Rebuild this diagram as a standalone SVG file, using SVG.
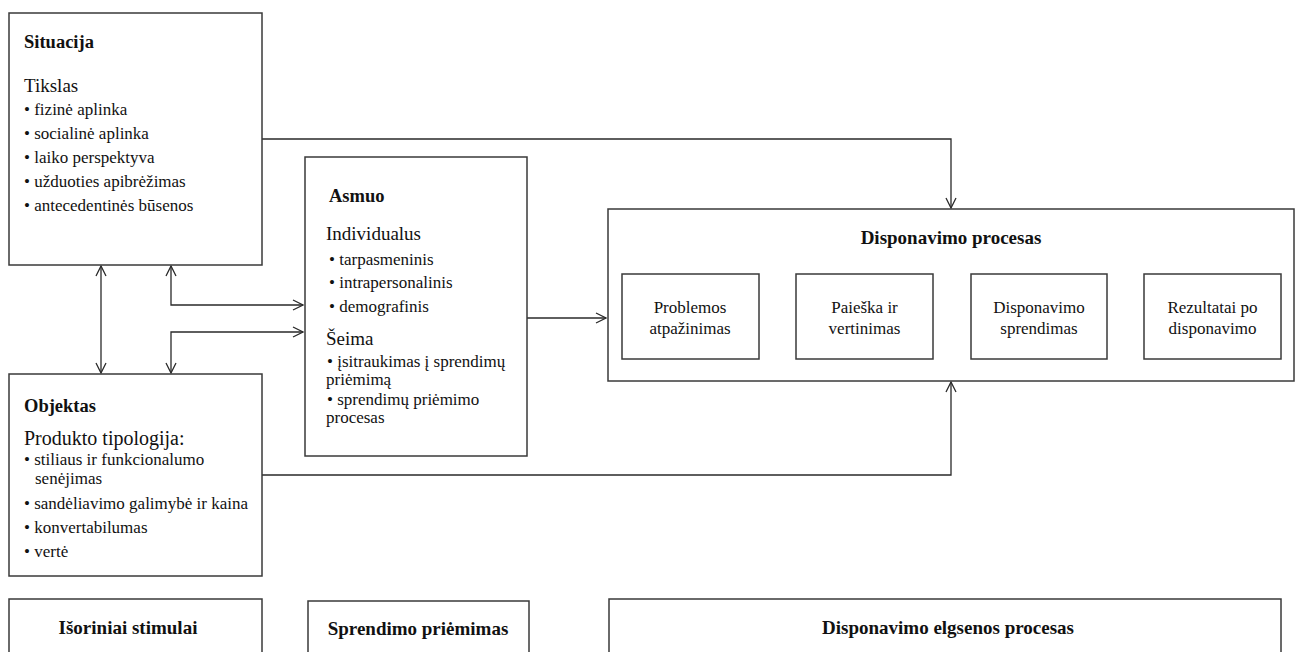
<svg xmlns="http://www.w3.org/2000/svg" width="1300" height="652" viewBox="0 0 1300 652">
<style>
.box{fill:#fff;stroke:#3a3a3a;stroke-width:1.5}
.t{font-family:"Liberation Serif","Times New Roman",serif;fill:#111}
.b{font-weight:bold;font-size:18.5px}
.h{font-size:19px}
.i{font-size:17px}
.c{font-size:17px;text-anchor:middle}
.bc{font-weight:bold;font-size:19px;text-anchor:middle}
.ln{fill:none;stroke:#2a2a2a;stroke-width:1.3}
</style>
<defs>
<marker id="a" viewBox="0 0 12 12" refX="11" refY="6" markerWidth="12" markerHeight="12" markerUnits="userSpaceOnUse" orient="auto-start-reverse">
<path d="M1,1 L11,6 L1,11" fill="none" stroke="#2a2a2a" stroke-width="1.3"/>
</marker>
</defs>
<rect width="1300" height="652" fill="#fff"/>

<g id="connectors">
<polyline class="ln" points="262,139 951,139 951,208" marker-end="url(#a)"/>
<line class="ln" x1="101" y1="266" x2="101" y2="373" marker-start="url(#a)" marker-end="url(#a)"/>
<polyline class="ln" points="171,266 171,305 303,305" marker-start="url(#a)" marker-end="url(#a)"/>
<polyline class="ln" points="303,332 171,332 171,373" marker-start="url(#a)" marker-end="url(#a)"/>
<line class="ln" x1="527" y1="318" x2="606" y2="318" marker-end="url(#a)"/>
<polyline class="ln" points="262,475 951,475 951,382" marker-end="url(#a)"/>
<line class="ln" x1="759" y1="317" x2="795" y2="317" marker-end="url(#a)"/>
<line class="ln" x1="933" y1="317" x2="970" y2="317" marker-end="url(#a)"/>
<line class="ln" x1="1107" y1="317" x2="1143" y2="317" marker-end="url(#a)"/>
</g>

<g id="situacija">
<rect class="box" x="9" y="13" width="253" height="252"/>
<text class="t b" x="24" y="48">Situacija</text>
<text class="t h" x="24" y="92">Tikslas</text>
<text class="t i" x="24" y="115">• fizinė aplinka</text>
<text class="t i" x="24" y="139">• socialinė aplinka</text>
<text class="t i" x="24" y="163">• laiko perspektyva</text>
<text class="t i" x="24" y="187">• užduoties apibrėžimas</text>
<text class="t i" x="24" y="211">• antecedentinės būsenos</text>
</g>

<g id="objektas">
<rect class="box" x="9" y="374" width="253" height="202"/>
<text class="t b" x="24" y="412">Objektas</text>
<text class="t h" x="24" y="445" style="font-size:20px">Produkto tipologija:</text>
<text class="t i" x="24" y="465">• stiliaus ir funkcionalumo</text>
<text class="t i" x="35" y="484">senėjimas</text>
<text class="t i" x="24" y="509">• sandėliavimo galimybė ir kaina</text>
<text class="t i" x="24" y="533">• konvertabilumas</text>
<text class="t i" x="24" y="557">• vertė</text>
</g>

<g id="asmuo">
<rect class="box" x="305" y="157" width="222" height="299"/>
<text class="t b" x="329" y="202">Asmuo</text>
<text class="t h" x="326" y="240">Individualus</text>
<text class="t i" x="329" y="265">• tarpasmeninis</text>
<text class="t i" x="329" y="288">• intrapersonalinis</text>
<text class="t i" x="329" y="312">• demografinis</text>
<text class="t h" x="326" y="345">Šeima</text>
<text class="t i" x="327" y="367">• įsitraukimas į sprendimų</text>
<text class="t i" x="326" y="385">priėmimą</text>
<text class="t i" x="327" y="405">• sprendimų priėmimo</text>
<text class="t i" x="326" y="423">procesas</text>
</g>

<g id="disponavimo-procesas">
<rect class="box" x="608" y="209" width="686" height="172"/>
<text class="t bc" x="951" y="244">Disponavimo procesas</text>
</g>

<g id="problemos">
<rect class="box" x="622" y="274" width="137" height="85"/>
<text class="t c" x="690" y="313">Problemos</text>
<text class="t c" x="690" y="334">atpažinimas</text>
</g>
<g id="paieska">
<rect class="box" x="796" y="274" width="137" height="85"/>
<text class="t c" x="864.5" y="313">Paieška ir</text>
<text class="t c" x="864.5" y="334">vertinimas</text>
</g>
<g id="sprendimas">
<rect class="box" x="971" y="274" width="136" height="85"/>
<text class="t c" x="1039" y="313">Disponavimo</text>
<text class="t c" x="1039" y="334">sprendimas</text>
</g>
<g id="rezultatai">
<rect class="box" x="1144" y="274" width="137" height="85"/>
<text class="t c" x="1212.5" y="313">Rezultatai po</text>
<text class="t c" x="1212.5" y="334">disponavimo</text>
</g>

<g id="isoriniai-stimulai">
<rect class="box" x="9" y="599" width="253" height="70"/>
<text class="t bc" x="128" y="634">Išoriniai stimulai</text>
</g>
<g id="sprendimo-priemimas">
<rect class="box" x="308" y="601" width="221" height="70"/>
<text class="t bc" x="418" y="635">Sprendimo priėmimas</text>
</g>
<g id="disponavimo-elgsenos-procesas">
<rect class="box" x="609" y="599" width="672" height="70"/>
<text class="t bc" x="948" y="634">Disponavimo elgsenos procesas</text>
</g>
</svg>
